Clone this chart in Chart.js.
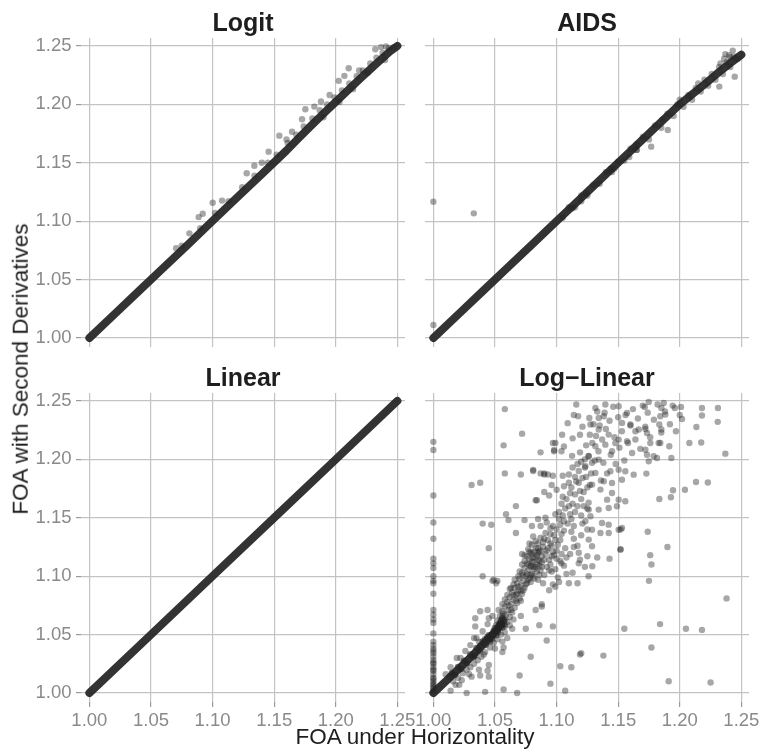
<!DOCTYPE html>
<html>
<head>
<meta charset="utf-8">
<script src="https://cdn.jsdelivr.net/npm/chart.js@4.4.1/dist/chart.umd.min.js"></script>
<style>
  html, body { margin: 0; padding: 0; background: #fff; }
  #wrap { position: relative; width: 762px; height: 756px; overflow: hidden; font-family: "Liberation Sans", Arial, sans-serif; }
  #wrap canvas { position: absolute; left: 0; top: 0; }
  .axis-title { position: absolute; color: #1e1e1e; font-size: 22.5px; line-height: 1; white-space: nowrap; }
  #x-title { left: 415px; top: 737px; transform: translate(-50%, -50%); }
  #y-title { left: 21px; top: 369px; transform: translate(-50%, -50%) rotate(-90deg); }
</style>
</head>
<body>
<div id="wrap">
  <canvas id="panel-logit" width="800" height="756"></canvas>
  <canvas id="panel-aids" width="800" height="756"></canvas>
  <canvas id="panel-linear" width="800" height="756"></canvas>
  <canvas id="panel-loglin" width="800" height="756"></canvas>
  <div class="axis-title" id="x-title">FOA under Horizontality</div>
  <div class="axis-title" id="y-title">FOA with Second Derivatives</div>
</div>
<script>
const panelTitles = ["Logit", "AIDS", "Linear", "Log\u2212Linear"];
const xTicks = [1.00, 1.05, 1.10, 1.15, 1.20, 1.25];
const yTicks = [1.00, 1.05, 1.10, 1.15, 1.20, 1.25];

// the heavily overplotted core of each panel (drawn as a thick trace)
const logitBand = [
  [1.0000,1.0000],[1.0200,1.0200],[1.0400,1.0400],[1.0600,1.0600],[1.0800,1.0800],[1.1000,1.1002],[1.1200,1.1203],
  [1.1400,1.1403],[1.1600,1.1605],[1.1700,1.1712],[1.1800,1.1818],[1.1900,1.1920],[1.2000,1.2022],[1.2100,1.2122],
  [1.2200,1.2222],[1.2300,1.2320],[1.2400,1.2415],[1.2450,1.2462],[1.2500,1.2500]
];
const logitScatter = [
  [1.075,1.079],[1.090,1.094],[1.102,1.107],[1.113,1.117],[1.124,1.129],[1.134,1.139],[1.145,1.150],[1.152,1.157],
  [1.161,1.167],[1.168,1.174],[1.174,1.181],[1.181,1.188],[1.187,1.195],[1.193,1.200],[1.199,1.206],[1.205,1.212],
  [1.211,1.218],[1.217,1.224],[1.222,1.229],[1.228,1.235],[1.233,1.240],[1.238,1.244],[1.243,1.248],[1.247,1.249],
  [1.226,1.227],[1.214,1.213],[1.203,1.202],[1.190,1.189],[1.240,1.238],
  [1.2321,1.2472],[1.2368,1.2490],[1.2408,1.2495],[1.2105,1.2309],[1.2070,1.2244],[1.2024,1.2201],[1.2190,1.2290],
  [1.1950,1.2080],[1.1753,1.1958],[1.1826,1.1981],[1.1880,1.2024],[1.1726,1.1872],[1.1645,1.1766],[1.1600,1.1700],
  [1.1542,1.1732],[1.1455,1.1595],[1.1400,1.1500],[1.1339,1.1475],[1.1277,1.1410],[1.1077,1.1176],[1.1001,1.1158],
  [1.0920,1.1063],[1.0887,1.1035],[1.0812,1.0896],[1.0704,1.0768]
];

const aidsBand = [
  [1.0000,1.0000],[1.0200,1.0200],[1.0400,1.0400],[1.0600,1.0600],[1.0800,1.0800],[1.1000,1.1000],[1.1200,1.1200],
  [1.1400,1.1400],[1.1600,1.1600],[1.1800,1.1800],[1.2000,1.2000],[1.2100,1.2085],[1.2200,1.2170],[1.2300,1.2260],
  [1.2400,1.2345],[1.2500,1.2425]
];
const aidsScatter = [
  [1.105,1.103],[1.110,1.112],[1.115,1.112],[1.120,1.122],[1.124,1.124],[1.125,1.122],[1.130,1.131],[1.135,1.132],
  [1.140,1.142],[1.144,1.145],[1.145,1.142],[1.147,1.145],[1.150,1.151],[1.155,1.152],[1.160,1.162],[1.165,1.161],
  [1.165,1.166],[1.170,1.172],[1.175,1.170],[1.180,1.182],[1.185,1.180],[1.186,1.187],[1.190,1.192],[1.195,1.190],
  [1.198,1.200],[1.200,1.204],[1.203,1.198],[1.207,1.208],[1.210,1.204],[1.213,1.214],[1.215,1.218],[1.217,1.211],
  [1.220,1.221],[1.223,1.216],[1.226,1.226],[1.229,1.221],[1.232,1.232],[1.233,1.235],[1.235,1.226],[1.236,1.239],
  [1.238,1.236],[1.240,1.242],[1.241,1.232],[1.243,1.246],[1.244,1.241],[1.247,1.239],
  [1.000,1.1167],[1.0328,1.1067],[1.000,1.0111],[1.2446,1.2237],[1.2321,1.2152],[1.1903,1.1781],[1.1768,1.1638],
  [1.2411,1.2403],[1.2370,1.2430],[1.1590,1.1550],[1.1650,1.1610],[1.1130,1.1110],[1.1200,1.1170]
];

const linearBand = [
  [1.0000,1.0000],[1.0500,1.0500],[1.1000,1.1000],[1.1500,1.1500],[1.2000,1.2000],[1.2500,1.2500]
];

const loglinBand = [
  [1.0000,1.0000],[1.0100,1.0100],[1.0200,1.0200],[1.0250,1.0252],[1.0300,1.0304],[1.0350,1.0357],[1.0400,1.0411],
  [1.0450,1.0466],[1.0500,1.0522],[1.0550,1.0584]
];
const loglinBandSpread = [
  [1.0150,1.0170],[1.0175,1.0155],[1.0200,1.0222],[1.0225,1.0205],[1.0250,1.0275],[1.0275,1.0255],[1.0300,1.0330],
  [1.0325,1.0305],[1.0340,1.0320],[1.0350,1.0385],[1.0375,1.0360],[1.0380,1.0405],[1.0400,1.0440],[1.0420,1.0460],
  [1.0425,1.0412],[1.0450,1.0495],[1.0460,1.0440],[1.0475,1.0465],[1.0490,1.0530],[1.0500,1.0555],[1.0510,1.0495],
  [1.0525,1.0520],[1.0530,1.0580],[1.0550,1.0620],[1.0560,1.0560],[1.0575,1.0585],[1.0575,1.0616],[1.0440,1.0480],
  [1.0480,1.0500],[1.0520,1.0545],[1.0540,1.0600],[1.0560,1.0640]
];
const loglinScatter = [
  // column at x = 1.00
  [1.000,1.215],[1.000,1.208],[1.000,1.169],[1.000,1.146],[1.000,1.132],[1.000,1.115],[1.000,1.111],[1.000,1.107],
  [1.000,1.100],[1.000,1.096],[1.000,1.094],[1.000,1.085],[1.000,1.071],[1.000,1.067],[1.000,1.063],[1.000,1.060],
  [1.000,1.051],[1.000,1.044],[1.000,1.041],[1.000,1.038],[1.000,1.034],[1.000,1.031],[1.000,1.028],[1.000,1.025],
  [1.000,1.022],[1.000,1.019],[1.000,1.016],[1.000,1.013],[1.000,1.010],[1.000,1.007],[1.000,1.004],[1.000,1.002],
  [1.000,1.036],[1.000,1.026],[1.000,1.020],[1.000,1.012],[1.000,1.008],[1.000,1.005],
  // lower scatter
  [1.014,1.002],[1.027,1.000],[1.042,1.001],[1.057,1.003],[1.068,1.000],[1.107,1.002],[1.070,1.015],[1.095,1.008],
  [1.079,1.031],[1.103,1.023],[1.112,1.022],[1.119,1.033],[1.138,1.032],[1.120,1.034],[1.092,1.045],[1.097,1.057],
  [1.086,1.058],[1.075,1.055],[1.071,1.066],[1.083,1.071],[1.088,1.074],[1.060,1.047],[1.056,1.044],[1.057,1.039],
  [1.056,1.035],[1.050,1.038],[1.041,1.033],[1.045,1.024],[1.044,1.019],[1.037,1.020],[1.038,1.015],[1.031,1.014],
  [1.029,1.016],[1.023,1.011],[1.021,1.007],[1.018,1.007],[1.019,1.030],[1.014,1.022],[1.013,1.014],[1.045,1.014],
  [1.034,1.057],[1.034,1.064],[1.038,1.070],[1.045,1.064],[1.044,1.071],[1.037,1.044],[1.033,1.047],[1.056,1.066],
  [1.058,1.063],[1.040,1.100],[1.048,1.096],[1.051,1.094],[1.052,1.096],[1.049,1.097],
  [1.016,1.010],[1.020,1.013],[1.024,1.017],[1.027,1.020],[1.030,1.022],[1.033,1.025],[1.036,1.028],[1.039,1.031],
  [1.042,1.035],[1.046,1.039],[1.049,1.043],[1.052,1.046],[1.055,1.050],[1.010,1.016],[1.022,1.030],[1.026,1.036],
  [1.030,1.041],[1.035,1.047],[1.040,1.053],[1.044,1.059],[1.048,1.066],[1.053,1.071],[1.058,1.052],[1.062,1.058],
  [1.065,1.063],[1.064,1.055],
  // lower right outliers
  [1.155,1.055],[1.184,1.059],[1.205,1.055],[1.218,1.054],[1.177,1.039],[1.191,1.010],[1.225,1.009],[1.238,1.081],
  [1.175,1.096],[1.177,1.110],[1.176,1.118],[1.174,1.138],[1.190,1.125],[1.152,1.123],[1.152,1.140],
  [1.129,1.1085],[1.133,1.116],[1.143,1.115],[1.125,1.117],
  // upper left outliers
  [1.031,1.178],[1.038,1.180],[1.040,1.145],[1.047,1.144],[1.058,1.243],[1.057,1.212],[1.072,1.222],[1.058,1.188],
  [1.071,1.187],[1.067,1.160],[1.059,1.153],[1.061,1.148],[1.045,1.124],[1.067,1.137],[1.087,1.206],[1.099,1.214],
  [1.098,1.208],[1.081,1.191],[1.090,1.188],[1.093,1.187],[1.083,1.165],
  // dense rising cloud 1.05 - 1.09
  [1.051,1.058],[1.052,1.062],[1.053,1.055],[1.054,1.066],[1.055,1.060],[1.056,1.070],[1.057,1.063],[1.058,1.057],
  [1.058,1.074],[1.059,1.067],[1.060,1.078],[1.060,1.061],[1.061,1.071],[1.062,1.082],[1.062,1.065],[1.063,1.076],
  [1.064,1.086],[1.064,1.069],[1.065,1.080],[1.066,1.073],[1.066,1.090],[1.067,1.084],[1.068,1.077],[1.068,1.094],
  [1.069,1.088],[1.070,1.081],[1.070,1.098],[1.071,1.092],[1.072,1.085],[1.072,1.103],[1.073,1.096],[1.074,1.107],
  [1.074,1.090],[1.075,1.100],[1.076,1.111],[1.076,1.094],[1.077,1.105],[1.078,1.115],[1.078,1.098],[1.079,1.109],
  [1.080,1.119],[1.080,1.102],[1.081,1.112],[1.082,1.106],[1.083,1.116],[1.084,1.110],[1.085,1.120],[1.086,1.113],
  [1.087,1.105],[1.088,1.117],
  [1.054,1.059],[1.057,1.068],[1.061,1.075],[1.063,1.071],[1.065,1.084],[1.067,1.079],[1.069,1.091],[1.071,1.087],
  [1.073,1.101],[1.075,1.093],[1.077,1.110],[1.079,1.101],[1.081,1.116],[1.083,1.108],[1.085,1.114],[1.082,1.121],
  [1.079,1.120],[1.076,1.117],[1.072,1.110],[1.069,1.100],[1.066,1.097],[1.063,1.090],[1.060,1.084],[1.058,1.080],
  [1.056,1.076],
  [1.062,1.089],[1.065,1.093],[1.068,1.085],[1.070,1.104],[1.071,1.079],[1.073,1.088],[1.074,1.113],[1.076,1.102],
  [1.077,1.097],[1.078,1.121],[1.079,1.095],[1.080,1.127],[1.081,1.108],[1.082,1.098],[1.083,1.130],[1.084,1.104],
  [1.085,1.124],[1.086,1.101],[1.087,1.133],[1.088,1.108],[1.089,1.129],[1.090,1.114],[1.091,1.137],[1.092,1.122],
  [1.093,1.131],[1.094,1.105],[1.095,1.136],[1.096,1.126],[1.097,1.143],[1.098,1.118],[1.099,1.131],[1.100,1.140],
  // central cloud
  [1.072,1.119],[1.087,1.122],[1.096,1.117],[1.104,1.111],[1.118,1.111],[1.113,1.103],[1.110,1.094],[1.117,1.094],
  [1.126,1.100],[1.118,1.120],[1.094,1.088],[1.099,1.091],[1.088,1.076],
  [1.080,1.113],[1.084,1.118],[1.088,1.112],[1.091,1.119],[1.089,1.125],[1.094,1.114],[1.097,1.121],[1.083,1.124],
  [1.079,1.108],[1.086,1.109],[1.092,1.108],[1.100,1.115],[1.104,1.119],[1.108,1.116],[1.106,1.109],[1.096,1.104],
  [1.090,1.101],[1.101,1.099],[1.074,1.118],[1.077,1.123],
  [1.095,1.110],[1.099,1.106],[1.103,1.113],[1.111,1.119],[1.114,1.125],[1.119,1.114],[1.123,1.108],[1.108,1.102],
  [1.102,1.095],[1.097,1.093],[1.085,1.097],[1.081,1.100],[1.089,1.094],
  [1.101,1.127],[1.102,1.155],[1.103,1.144],[1.104,1.162],[1.105,1.152],[1.106,1.139],[1.107,1.158],[1.108,1.166],
  [1.109,1.145],[1.110,1.160],[1.111,1.153],[1.112,1.176],[1.113,1.162],[1.114,1.143],[1.115,1.170],[1.116,1.181],
  [1.117,1.160],[1.118,1.190],[1.119,1.173],[1.120,1.198],[1.121,1.184],[1.122,1.160],[1.123,1.193],[1.124,1.212],
  // middle cloud 1.07 - 1.13
  [1.081,1.190],[1.087,1.188],[1.090,1.187],[1.097,1.186],[1.105,1.186],[1.110,1.187],[1.084,1.165],[1.090,1.172],
  [1.096,1.178],[1.094,1.169],[1.100,1.174],[1.106,1.177],[1.105,1.168],[1.111,1.171],[1.074,1.148],[1.080,1.143],
  [1.085,1.149],[1.091,1.150],[1.087,1.143],[1.092,1.146],[1.095,1.141],[1.102,1.149],[1.099,1.153],[1.106,1.147],
  [1.112,1.149],[1.115,1.155],[1.120,1.152],[1.125,1.158],[1.121,1.145],[1.112,1.138],[1.104,1.136],[1.098,1.135],
  [1.090,1.132],[1.085,1.128],[1.081,1.134],[1.078,1.128],[1.086,1.121],[1.095,1.128],[1.103,1.131],[1.114,1.132],
  [1.120,1.135],[1.117,1.126],[1.093,1.124],[1.100,1.122],[1.107,1.124],[1.125,1.140],
  [1.124,1.185],[1.127,1.178],[1.122,1.172],[1.126,1.163],[1.120,1.166],[1.118,1.180],[1.115,1.185],[1.110,1.180],
  [1.125,1.176],[1.126,1.203],[1.127,1.221],[1.128,1.188],[1.129,1.214],[1.130,1.230],[1.131,1.199],[1.132,1.220],
  [1.133,1.241],[1.134,1.207],[1.135,1.229],[1.136,1.182],[1.137,1.217],[1.138,1.197],[1.139,1.240],[1.140,1.226],
  // upper cloud
  [1.1045,1.221],[1.109,1.231],[1.114,1.238],[1.1175,1.237],[1.116,1.247],[1.121,1.228],[1.119,1.221],[1.113,1.218],
  [1.106,1.211],[1.098,1.207],[1.104,1.207],[1.1126,1.203],[1.119,1.206],[1.123,1.200],[1.097,1.214],[1.113,1.193],
  [1.117,1.196],
  [1.1315,1.2440],[1.1396,1.2469],[1.1504,1.2455],[1.1572,1.2397],[1.1531,1.2312],[1.1599,1.2298],[1.1640,1.2240],
  [1.1667,1.2255],[1.1721,1.2260],[1.1734,1.2226],[1.1761,1.2140],[1.1842,1.2140],[1.1721,1.2083],[1.1734,1.2040],
  [1.1788,1.2026],[1.1815,1.2012],[1.1748,1.1983],[1.1613,1.2055],[1.1572,1.2155],[1.1450,1.2070],[1.1423,1.2212],
  [1.1342,1.2255],[1.1275,1.2298],[1.1266,1.2354],[1.1342,1.2354],[1.1383,1.2369],[1.1477,1.2140],[1.1504,1.2169],
  [1.1396,1.2126],[1.1315,1.2112],[1.1261,1.2026],[1.1288,1.1970],[1.1342,1.1998],[1.1234,1.1941],[1.1315,1.1884],
  [1.1437,1.1898],[1.1504,1.1912],[1.1558,1.1898],[1.1626,1.1869],[1.1531,1.1826],[1.1450,1.1798],[1.1383,1.1812],
  [1.1288,1.1784],[1.1356,1.1741],[1.1450,1.1712],[1.1410,1.1655],[1.1504,1.1655],[1.1558,1.1641],[1.1490,1.1598],
  [1.1423,1.1584],[1.1342,1.1570],[1.1261,1.1570],[1.1275,1.1513],[1.1234,1.1470],[1.1369,1.1455],[1.1423,1.1441],
  [1.1288,1.1398],[1.1356,1.1370],[1.1423,1.1370],[1.1504,1.1398],[1.1531,1.1412],[1.1261,1.1313],[1.1288,1.1256],
  [1.1518,1.1227],
  [1.141,1.188],[1.143,1.233],[1.144,1.204],[1.146,1.245],[1.147,1.219],[1.148,1.196],[1.150,1.236],[1.151,1.210],
  [1.153,1.224],[1.155,1.199],[1.156,1.238],[1.158,1.214],[1.160,1.229],[1.162,1.243],[1.164,1.217],[1.166,1.235],
  [1.168,1.209],[1.170,1.246],[1.172,1.228],[1.174,1.240],[1.176,1.219],[1.179,1.234],[1.182,1.247],[1.185,1.223],
  [1.188,1.241],[1.192,1.230],[1.196,1.244],[1.200,1.238],
  // upper right scatter
  [1.1748,1.2492],[1.1716,1.2449],[1.1870,1.2483],[1.1943,1.2460],[1.2010,1.2449],[1.2180,1.2440],[1.2310,1.2440],
  [1.2180,1.2375],[1.2308,1.2321],[1.2018,1.2346],[1.2135,1.2277],[1.2078,1.2140],[1.2370,1.2049],[1.1851,1.2440],
  [1.1842,1.2369],[1.1883,1.2383],[1.1834,1.2298],[1.1851,1.2255],[1.1969,1.2240],[1.1829,1.2140],[1.1915,1.2112],
  [1.1932,1.2012],[1.2132,1.1806],[1.1945,1.1735],[1.1834,1.1661],[1.1729,1.1878],[1.2042,1.1740],[1.1928,1.1676],
  [1.2228,1.1802],[1.2174,1.2144]
];

const FONT = '"Liberation Sans", Arial, sans-serif';
const CANVAS_W = 800;
const CANVAS_H = 756;

const panels = [
  { id: "panel-logit", title: panelTitles[0], band: logitBand, spread: [], scatter: logitScatter,
    left: 81, right: 405, top: 38, bottom: 347, showX: false, showY: true },
  { id: "panel-aids", title: panelTitles[1], band: aidsBand, spread: [], scatter: aidsScatter,
    left: 425, right: 749, top: 38, bottom: 347, showX: false, showY: false },
  { id: "panel-linear", title: panelTitles[2], band: linearBand, spread: [], scatter: [],
    left: 81, right: 405, top: 393, bottom: 702, showX: true, showY: true },
  { id: "panel-loglin", title: panelTitles[3], band: loglinBand, spread: loglinBandSpread, scatter: loglinScatter,
    left: 425, right: 749, top: 393, bottom: 702, showX: true, showY: false }
];

const TITLE_H = 26;
const Y_AXIS_W = 75;
const X_AXIS_H = 30;

function toPoints(list) {
  return list.map(([x, y]) => ({ x, y }));
}

function axisOptions(tickValues, show, min, max, isX) {
  return {
    type: "linear",
    min,
    max,
    afterBuildTicks: (scale) => {
      scale.ticks = tickValues.map((v) => ({ value: v }));
    },
    afterFit: (scale) => {
      if (isX) scale.height = show ? X_AXIS_H : 0;
      else scale.width = show ? Y_AXIS_W : 0;
    },
    grid: {
      color: "#c3c3c3",
      lineWidth: 1.2,
      drawTicks: show,
      tickLength: 5,
      tickColor: "#9a9a9a",
      tickWidth: 1.2
    },
    border: { display: false },
    ticks: {
      display: show,
      autoSkip: false,
      maxRotation: 0,
      padding: isX ? 3 : 4.5,
      color: "#8a8a8a",
      font: { family: FONT, size: 18.5 },
      callback: (v) => Number(v).toFixed(2)
    }
  };
}

function buildPanel(p) {
  const ctx = document.getElementById(p.id).getContext("2d");
  const yW = p.showY ? Y_AXIS_W : 0;
  const xH = p.showX ? X_AXIS_H : 0;
  return new Chart(ctx, {
    type: "scatter",
    data: {
      datasets: [
        {
          data: toPoints(p.scatter),
          backgroundColor: "rgba(35, 35, 35, 0.4)",
          pointRadius: 3.2,
          pointBorderWidth: 0
        },
        {
          data: toPoints(p.spread),
          backgroundColor: "rgba(35, 35, 35, 0.6)",
          pointRadius: 3.3,
          pointBorderWidth: 0
        },
        {
          // overplotted core: hundreds of points merging into one dark trace
          data: toPoints(p.band),
          showLine: true,
          borderColor: "rgba(40, 40, 40, 0.95)",
          borderWidth: 8,
          borderCapStyle: "round",
          borderJoinStyle: "round",
          pointRadius: 0
        }
      ]
    },
    options: {
      responsive: false,
      animation: false,
      events: [],
      layout: {
        padding: {
          left: p.left - yW,
          right: CANVAS_W - p.right,
          top: p.top - TITLE_H,
          bottom: CANVAS_H - p.bottom - xH
        }
      },
      plugins: {
        legend: { display: false },
        tooltip: { enabled: false },
        title: {
          display: true,
          text: p.title,
          fullSize: false,
          color: "#1e1e1e",
          font: { family: FONT, size: 25, weight: "bold", lineHeight: 1 },
          padding: { top: 0, bottom: 1 }
        }
      },
      scales: {
        x: axisOptions(xTicks, p.showX, 0.9932, 1.2562, true),
        y: axisOptions(yTicks, p.showY, 0.9923, 1.2568, false)
      }
    }
  });
}

panels.forEach(buildPanel);
</script>
</body>
</html>
